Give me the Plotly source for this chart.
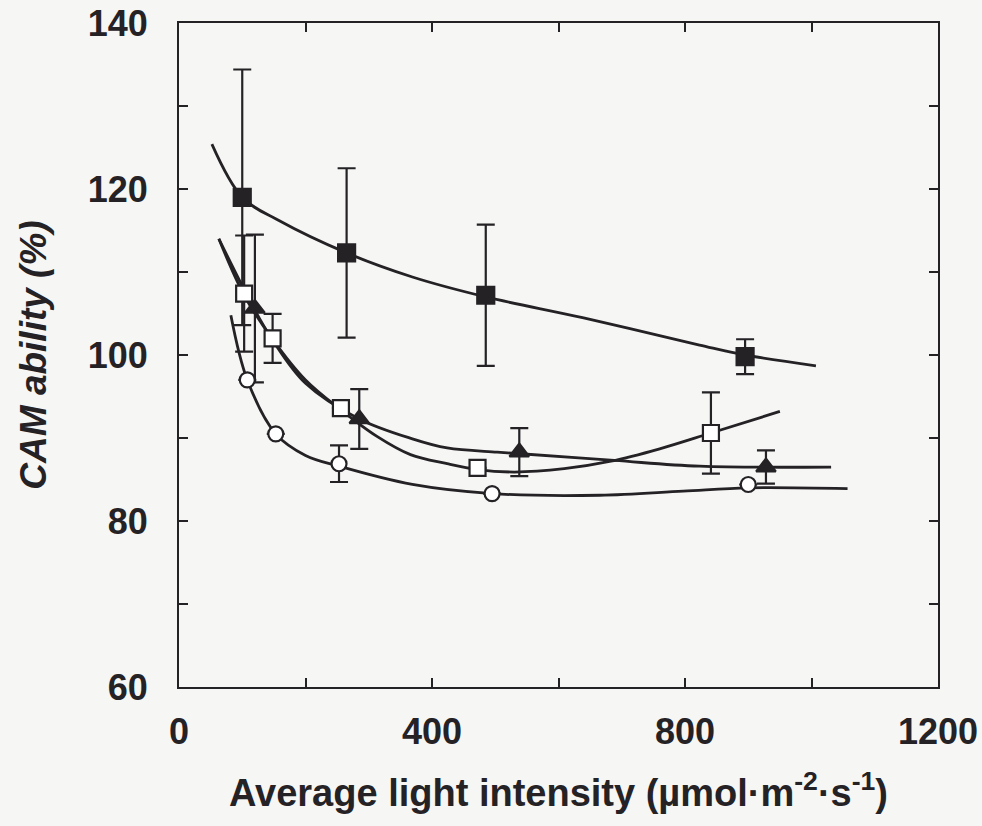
import plotly.graph_objects as go

# ---- data ----
# filled squares
fsq_x = [100, 265, 485, 895]
fsq_y = [119.0, 112.3, 107.2, 99.8]
fsq_e = [15.4, 10.2, 8.5, 2.1]
fsq_curve_x = [52, 100, 158, 265, 369, 485, 638, 823, 895, 1007]
fsq_curve_y = [125.4, 119.0, 116.2, 112.3, 109.4, 107.0, 104.5, 101.2, 100.0, 98.7]

# open squares
osq_x = [103, 148, 256, 472, 841]
osq_y = [107.4, 102.0, 93.6, 86.4, 90.6]
osq_e = [7.0, 2.95, 0, 0, 4.9]
osq_curve_x = [63, 103, 148, 200, 256, 313, 366, 424, 472, 530, 609, 683, 760, 841, 950]
osq_curve_y = [114.0, 107.2, 101.9, 97.0, 93.4, 90.2, 88.0, 86.9, 86.2, 85.9, 86.3, 87.2, 88.7, 90.6, 93.2]

# filled triangles
tri_x = [120, 285, 538, 928]
tri_y = [105.6, 92.3, 88.3, 86.5]
tri_e = [8.9, 3.6, 2.9, 2.0]
tri_curve_x = [63, 120, 148, 200, 285, 369, 424, 503, 540, 688, 823, 1031]
tri_curve_y = [114.0, 105.4, 101.8, 96.6, 92.3, 89.9, 88.8, 88.3, 88.1, 87.3, 86.6, 86.5]

# open circles
cir_x = [108, 153, 253, 495, 900]
cir_y = [97.0, 90.5, 86.9, 83.3, 84.4]
cir_e = [0, 0, 2.2, 0, 0]
cir_curve_x = [82, 108, 153, 200, 253, 369, 495, 665, 797, 900, 1057]
cir_curve_y = [104.8, 97.0, 90.5, 87.9, 86.6, 84.4, 83.3, 83.1, 83.6, 84.0, 83.9]

x_ticks = [0, 400, 800, 1200]
x_labels = ["0", "400", "800", "1200"]
x_minor_step = 200
y_ticks = [60, 80, 100, 120, 140]
y_labels = ["60", "80", "100", "120", "140"]
y_minor_step = 10

INK = "#252226"
BG = "#f6f6f4"

fig = go.Figure()

for cx, cy in [(fsq_curve_x, fsq_curve_y), (osq_curve_x, osq_curve_y),
               (tri_curve_x, tri_curve_y), (cir_curve_x, cir_curve_y)]:
    fig.add_trace(go.Scatter(x=cx, y=cy, mode="lines",
                             line=dict(color=INK, width=2.8, shape="spline", smoothing=1.0),
                             hoverinfo="skip", showlegend=False))

def pts(x, y, e, symbol, fill, size):
    fig.add_trace(go.Scatter(
        x=x, y=y, mode="markers",
        marker=dict(symbol=symbol, size=size, color=fill,
                    line=dict(color=INK, width=2.2)),
        error_y=dict(type="data", array=e, visible=True, color=INK,
                     thickness=2.2, width=9),
        showlegend=False))

pts(fsq_x, fsq_y, fsq_e, "square", INK, 17)
pts(osq_x, osq_y, osq_e, "square", "white", 16)
pts(tri_x, tri_y, tri_e, "triangle-up", INK, 17)
pts(cir_x, cir_y, cir_e, "circle", "white", 15)

axis_common = dict(
    showline=True, linecolor=INK, linewidth=2, mirror="allticks",
    ticks="inside", ticklen=9, tickwidth=1.8, tickcolor=INK,
    showgrid=False, zeroline=False, automargin=False,
    tickfont=dict(family="Liberation Sans", size=36, color=INK, weight="bold"),
)

fig.update_xaxes(range=[0, 1200], tickvals=x_ticks, ticktext=x_labels,
                 minor=dict(dtick=x_minor_step, tick0=0, ticks="inside", ticklen=9,
                            tickwidth=1.8, tickcolor=INK, showgrid=False),
                 ticklabelstandoff=12,
                 title=dict(text="Average light intensity (µmol·m<sup>-2</sup>·s<sup>-1</sup>)",
                            font=dict(family="Liberation Sans", size=38, color=INK, weight="bold"),
                            standoff=28),
                 **axis_common)
fig.update_yaxes(range=[60, 140], tickvals=y_ticks, ticktext=y_labels,
                 minor=dict(dtick=y_minor_step, tick0=60, ticks="inside", ticklen=9,
                            tickwidth=1.8, tickcolor=INK, showgrid=False),
                 ticklabelstandoff=22,
                 title=dict(text="<i>CAM ability (%)</i>",
                            font=dict(family="Liberation Sans", size=37, color=INK, weight="bold"),
                            standoff=30),
                 **axis_common)

fig.update_layout(width=982, height=826,
                  margin=dict(l=179, r=44, t=23, b=139),
                  paper_bgcolor=BG, plot_bgcolor=BG,
                  showlegend=False)

fig.write_html("out.html")
